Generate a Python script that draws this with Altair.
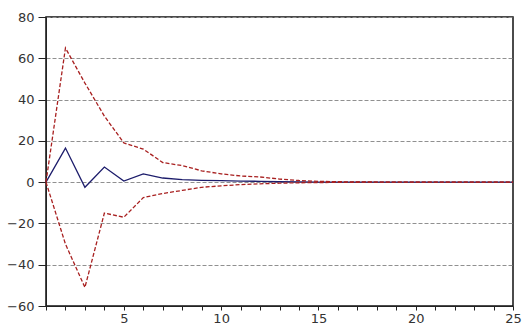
import altair as alt
import pandas as pd

periods = list(range(1, 26))
response = [0, 16.5, -2.5, 7.3, 0.5, 4.0, 2.0, 1.2, 0.9, 0.7, 0.5, 0.4, 0.2, 0.1, 0.05,
            0, 0, 0, 0, 0, 0, 0, 0, 0, 0]
upper = [0, 65, 48, 32, 19, 16, 9.5, 8, 5.5, 4, 3, 2.5, 1.5, 0.8, 0.4,
         0.2, 0.1, 0.05, 0, 0, 0, 0, 0, 0, 0]
lower = [0, -30, -51, -15, -17, -7.5, -5.5, -4, -2.5, -1.8, -1.2, -0.8, -0.5, -0.3, -0.2,
         -0.1, -0.05, 0, 0, 0, 0, 0, 0, 0, 0]
y_ticks = [-60, -40, -20, 0, 20, 40, 60, 80]

df = pd.DataFrame({"period": periods, "response": response, "upper": upper, "lower": lower})

xscale = alt.Scale(domain=[1, 25], nice=False, zero=False)
yscale = alt.Scale(domain=[-60, 80], nice=False)

xaxis = alt.Axis(values=periods, labelExpr="datum.value % 5 == 0 ? datum.label : ''",
                 title=None, grid=False, tickSize=4, tickColor="#222", domainColor="#222",
                 labelFont="DejaVu Sans", labelFontSize=13, labelColor="#333", labelPadding=2,
                 labelFlush=False, labelOverlap=False, labelBound=False)
yaxis = alt.Axis(values=y_ticks, title=None, grid=True,
                 gridDash=[4, 2], gridColor="#909090", gridWidth=1, tickSize=8,
                 tickColor="#222", domainColor="#222", labelFont="DejaVu Sans",
                 labelFontSize=13, labelColor="#333", labelPadding=4, labelOverlap=False)

base = alt.Chart(df).encode(x=alt.X("period:Q", scale=xscale, axis=xaxis))

up = base.mark_line(color="#a82020", strokeDash=[4, 2], strokeWidth=1.3).encode(
    y=alt.Y("upper:Q", scale=yscale, axis=yaxis),
)
lo = base.mark_line(color="#a82020", strokeDash=[4, 2], strokeWidth=1.3).encode(
    y=alt.Y("lower:Q", scale=yscale, axis=yaxis),
)
resp = base.mark_line(color="#1c1c6b", strokeWidth=1.3).encode(
    y=alt.Y("response:Q", scale=yscale, axis=yaxis),
)

chart = alt.layer(resp, up, lo).properties(
    width=467, height=289,
    autosize=alt.AutoSizeParams(type="none"),
    padding={"left": 46, "top": 17, "right": 10, "bottom": 27},
    background="white",
).configure_view(stroke="#111", strokeWidth=1.5)

chart.save("out.html", embed_options={"renderer": "svg", "actions": False})
